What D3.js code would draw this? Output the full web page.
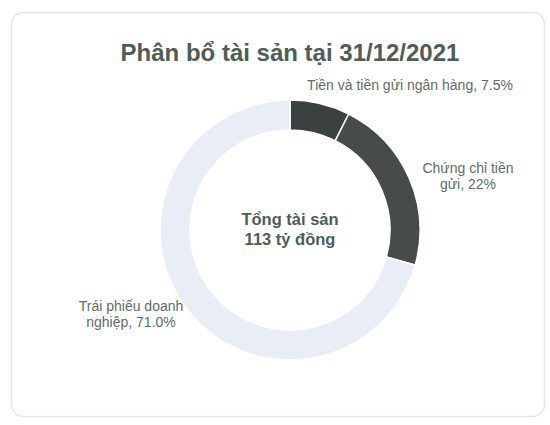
<!DOCTYPE html>
<html>
<head>
<meta charset="utf-8">
<script src="https://cdn.jsdelivr.net/npm/d3@7"></script>
<style>
  body { margin: 0; background: #fff; }
  svg { display: block; font-family: "Liberation Sans", Arial, sans-serif; }
</style>
</head>
<body>
<svg id="chart" width="550" height="425"></svg>
<script>
const categories = ['Tiền và tiền gửi ngân hàng', 'Chứng chỉ tiền gửi', 'Trái phiếu doanh nghiệp'];
const values = [7.5, 22, 71.0];
const valueLabels = ['7.5%', '22%', '71.0%'];
const labelLines = [
    ['Tiền và tiền gửi ngân hàng, 7.5%'],
    ['Chứng chỉ tiền', 'gửi, 22%'],
    ['Trái phiếu doanh', 'nghiệp, 71.0%']
];
const title = 'Phân bổ tài sản tại 31/12/2021';
const centerLines = ['Tổng tài sản', '113 tỷ đồng'];

const COLORS = ['#3b4040', '#474c4b', '#e9eef6'];
const TEXT = '#4e5d58';
const LABEL = '#5d6d68';

const svg = d3.select('#chart');
const cx = 290, cy = 230;
const outerR = 130, innerR = 100;

// card
svg.append('rect')
    .attr('x', 11.5).attr('y', 12.5)
    .attr('width', 533).attr('height', 404)
    .attr('rx', 12)
    .attr('fill', '#fff')
    .attr('stroke', '#e6e6e6').attr('stroke-width', 1.5);

svg.append('text')
    .attr('x', cx).attr('y', 61)
    .attr('text-anchor', 'middle')
    .style('font-size', '24px').style('font-weight', 'bold').style('fill', TEXT)
    .text(title);

const data = categories.map((c, i) => ({ name: c, value: values[i], label: valueLabels[i] }));
const pie = d3.pie().sort(null).value(d => d.value);
const arc = d3.arc().innerRadius(innerR).outerRadius(outerR);

const g = svg.append('g').attr('transform', `translate(${cx},${cy})`);

g.selectAll('path')
    .data(pie(data))
    .join('path')
    .attr('d', arc)
    .attr('fill', (d, i) => COLORS[i])
    .attr('stroke', '#fff').attr('stroke-width', 1.5);

// center text
g.append('text')
    .attr('text-anchor', 'middle')
    .style('font-size', '16.5px').style('font-weight', 'bold').style('fill', TEXT)
    .selectAll('tspan')
    .data(centerLines)
    .join('tspan')
    .attr('x', 0)
    .attr('y', (d, i) => -5 + i * 20)
    .text(d => d);

// data labels (offsets relative to the donut centre)
const labelPos = [
    { x: 120, y: -140 },
    { x: 178, y: -57 },
    { x: -159, y: 81 }
];

g.selectAll('text.lbl')
    .data(labelLines)
    .join('text')
    .attr('class', 'lbl')
    .attr('text-anchor', 'middle')
    .style('font-size', '14px').style('fill', LABEL)
    .each(function (lines, i) {
        d3.select(this).selectAll('tspan')
            .data(lines)
            .join('tspan')
            .attr('x', labelPos[i].x)
            .attr('y', (d, j) => labelPos[i].y + j * 16)
            .text(d => d);
    });
</script>
</body>
</html>
